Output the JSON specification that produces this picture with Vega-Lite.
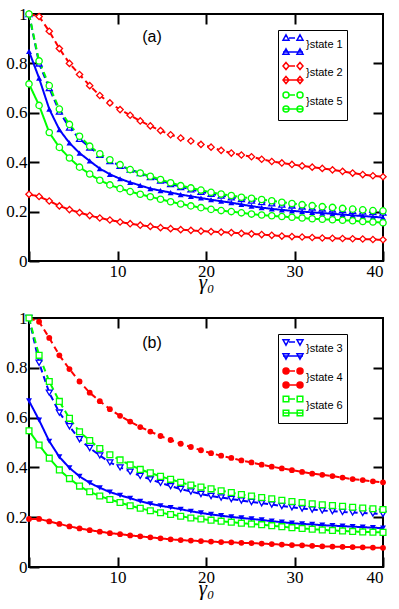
{
  "$schema": "https://vega.github.io/schema/vega-lite/v6.json",
  "background": "white",
  "padding": {"left": 4, "top": 4, "right": 4, "bottom": 4},
  "spacing": 15,
  "datasets": {
    "a": [
      {"state": "state 1", "style": "dashed", "x": [0,1.14,2.29,3.43,4.57,5.71,6.86,8,9.14,10.29,11.43,12.57,13.71,14.86,16,17.14,18.29,19.43,20.57,21.71,22.86,24,25.14,26.29,27.43,28.57,29.71,30.86,32,33.14,34.29,35.43,36.57,37.71,38.86,40], "y": [1.0,0.80,0.70,0.605,0.54,0.495,0.46,0.43,0.405,0.386,0.37,0.356,0.34,0.326,0.312,0.30,0.29,0.28,0.272,0.265,0.258,0.251,0.245,0.239,0.234,0.229,0.225,0.221,0.217,0.213,0.209,0.206,0.203,0.2,0.198,0.196]},
      {"state": "state 1", "style": "solid", "x": [0,1.14,2.29,3.43,4.57,5.71,6.86,8,9.14,10.29,11.43,12.57,13.71,14.86,16,17.14,18.29,19.43,20.57,21.71,22.86,24,25.14,26.29,27.43,28.57,29.71,30.86,32,33.14,34.29,35.43,36.57,37.71,38.86,40], "y": [0.849,0.74,0.615,0.532,0.478,0.437,0.405,0.374,0.351,0.333,0.318,0.306,0.293,0.285,0.277,0.269,0.262,0.255,0.248,0.242,0.236,0.229,0.222,0.216,0.211,0.207,0.203,0.2,0.197,0.194,0.191,0.188,0.185,0.182,0.179,0.176]},
      {"state": "state 2", "style": "dashed", "x": [0,1.14,2.29,3.43,4.57,5.71,6.86,8,9.14,10.29,11.43,12.57,13.71,14.86,16,17.14,18.29,19.43,20.57,21.71,22.86,24,25.14,26.29,27.43,28.57,29.71,30.86,32,33.14,34.29,35.43,36.57,37.71,38.86,40], "y": [1.0,0.99,0.93,0.86,0.80,0.755,0.71,0.67,0.64,0.613,0.59,0.567,0.547,0.528,0.511,0.498,0.486,0.472,0.461,0.448,0.437,0.429,0.422,0.412,0.403,0.397,0.391,0.385,0.38,0.375,0.369,0.363,0.356,0.35,0.345,0.341]},
      {"state": "state 2", "style": "solid", "x": [0,1.14,2.29,3.43,4.57,5.71,6.86,8,9.14,10.29,11.43,12.57,13.71,14.86,16,17.14,18.29,19.43,20.57,21.71,22.86,24,25.14,26.29,27.43,28.57,29.71,30.86,32,33.14,34.29,35.43,36.57,37.71,38.86,40], "y": [0.27,0.261,0.243,0.223,0.208,0.196,0.184,0.174,0.166,0.158,0.151,0.145,0.14,0.135,0.131,0.127,0.124,0.121,0.119,0.117,0.115,0.112,0.11,0.107,0.104,0.101,0.099,0.097,0.095,0.093,0.092,0.091,0.09,0.089,0.087,0.086]},
      {"state": "state 5", "style": "dashed", "x": [0,1.14,2.29,3.43,4.57,5.71,6.86,8,9.14,10.29,11.43,12.57,13.71,14.86,16,17.14,18.29,19.43,20.57,21.71,22.86,24,25.14,26.29,27.43,28.57,29.71,30.86,32,33.14,34.29,35.43,36.57,37.71,38.86,40], "y": [1.0,0.81,0.71,0.615,0.553,0.505,0.465,0.434,0.41,0.39,0.37,0.356,0.343,0.33,0.317,0.305,0.296,0.287,0.278,0.271,0.265,0.258,0.254,0.249,0.244,0.238,0.233,0.228,0.224,0.22,0.217,0.213,0.21,0.207,0.204,0.203]},
      {"state": "state 5", "style": "solid", "x": [0,1.14,2.29,3.43,4.57,5.71,6.86,8,9.14,10.29,11.43,12.57,13.71,14.86,16,17.14,18.29,19.43,20.57,21.71,22.86,24,25.14,26.29,27.43,28.57,29.71,30.86,32,33.14,34.29,35.43,36.57,37.71,38.86,40], "y": [0.717,0.63,0.52,0.46,0.417,0.38,0.352,0.327,0.308,0.293,0.281,0.27,0.26,0.25,0.24,0.231,0.223,0.216,0.209,0.204,0.2,0.195,0.19,0.186,0.183,0.18,0.177,0.174,0.171,0.169,0.167,0.165,0.163,0.16,0.158,0.155]}
    ],
    "b": [
      {"state": "state 3", "style": "dashed", "x": [0,1.14,2.29,3.43,4.57,5.71,6.86,8,9.14,10.29,11.43,12.57,13.71,14.86,16,17.14,18.29,19.43,20.57,21.71,22.86,24,25.14,26.29,27.43,28.57,29.71,30.86,32,33.14,34.29,35.43,36.57,37.71,38.86,40], "y": [1.0,0.82,0.70,0.62,0.565,0.513,0.478,0.448,0.42,0.4,0.383,0.366,0.352,0.338,0.325,0.313,0.303,0.293,0.285,0.279,0.273,0.267,0.261,0.256,0.251,0.245,0.24,0.235,0.231,0.227,0.224,0.221,0.219,0.217,0.215,0.213]},
      {"state": "state 3", "style": "solid", "x": [0,1.14,2.29,3.43,4.57,5.71,6.86,8,9.14,10.29,11.43,12.57,13.71,14.86,16,17.14,18.29,19.43,20.57,21.71,22.86,24,25.14,26.29,27.43,28.57,29.71,30.86,32,33.14,34.29,35.43,36.57,37.71,38.86,40], "y": [0.667,0.59,0.505,0.442,0.398,0.364,0.338,0.318,0.301,0.288,0.276,0.264,0.254,0.246,0.239,0.232,0.224,0.217,0.211,0.206,0.201,0.197,0.193,0.189,0.184,0.18,0.176,0.173,0.171,0.168,0.166,0.164,0.162,0.16,0.158,0.156]},
      {"state": "state 4", "style": "dashed", "x": [0,1.14,2.29,3.43,4.57,5.71,6.86,8,9.14,10.29,11.43,12.57,13.71,14.86,16,17.14,18.29,19.43,20.57,21.71,22.86,24,25.14,26.29,27.43,28.57,29.71,30.86,32,33.14,34.29,35.43,36.57,37.71,38.86,40], "y": [1.0,0.985,0.92,0.85,0.795,0.745,0.70,0.666,0.634,0.607,0.584,0.562,0.544,0.526,0.51,0.495,0.482,0.469,0.457,0.447,0.438,0.428,0.42,0.411,0.403,0.396,0.389,0.382,0.375,0.37,0.365,0.359,0.353,0.349,0.344,0.34]},
      {"state": "state 4", "style": "solid", "x": [0,1.14,2.29,3.43,4.57,5.71,6.86,8,9.14,10.29,11.43,12.57,13.71,14.86,16,17.14,18.29,19.43,20.57,21.71,22.86,24,25.14,26.29,27.43,28.57,29.71,30.86,32,33.14,34.29,35.43,36.57,37.71,38.86,40], "y": [0.193,0.193,0.183,0.173,0.163,0.155,0.148,0.142,0.136,0.132,0.127,0.123,0.119,0.115,0.111,0.108,0.106,0.104,0.102,0.1,0.099,0.097,0.096,0.094,0.092,0.09,0.088,0.087,0.085,0.083,0.082,0.081,0.08,0.079,0.078,0.077]},
      {"state": "state 6", "style": "dashed", "x": [0,1.14,2.29,3.43,4.57,5.71,6.86,8,9.14,10.29,11.43,12.57,13.71,14.86,16,17.14,18.29,19.43,20.57,21.71,22.86,24,25.14,26.29,27.43,28.57,29.71,30.86,32,33.14,34.29,35.43,36.57,37.71,38.86,40], "y": [1.0,0.85,0.745,0.665,0.597,0.543,0.508,0.476,0.451,0.43,0.41,0.392,0.378,0.364,0.352,0.34,0.329,0.321,0.314,0.306,0.299,0.291,0.285,0.279,0.274,0.268,0.263,0.259,0.254,0.25,0.247,0.244,0.24,0.237,0.234,0.231]},
      {"state": "state 6", "style": "solid", "x": [0,1.14,2.29,3.43,4.57,5.71,6.86,8,9.14,10.29,11.43,12.57,13.71,14.86,16,17.14,18.29,19.43,20.57,21.71,22.86,24,25.14,26.29,27.43,28.57,29.71,30.86,32,33.14,34.29,35.43,36.57,37.71,38.86,40], "y": [0.547,0.49,0.437,0.39,0.355,0.325,0.302,0.285,0.271,0.259,0.246,0.236,0.226,0.218,0.211,0.204,0.197,0.193,0.188,0.184,0.18,0.176,0.173,0.17,0.166,0.162,0.158,0.155,0.152,0.149,0.147,0.145,0.143,0.141,0.14,0.139]}
    ]
  },
  "vconcat": [
    {
      "width": 354,
      "height": 247,
      "resolve": {"axis": {"x": "independent", "y": "independent"}},
      "layer": [
        {
          "data": {"name": "a"},
          "transform": [{"flatten": ["x", "y"]}],
          "mark": {"type": "line", "strokeWidth": 2},
          "encoding": {
            "x": {"field": "x", "type": "quantitative", "scale": {"domain": [0, 40], "nice": false}, "axis": {"orient": "bottom", "values": [0, 10, 20, 30, 40], "labelExpr": "datum.value == 0 ? '' : datum.label", "title": "γ₀"}},
            "y": {"field": "y", "type": "quantitative", "scale": {"domain": [0, 1], "nice": false}, "axis": {"orient": "left", "values": [0, 0.2, 0.4, 0.6, 0.8, 1], "format": ".1~f", "title": null}},
            "color": {"field": "state", "type": "nominal", "scale": {"domain": ["state 1", "state 2", "state 5"], "range": ["#0000ff", "#ff0000", "#00ff00"]},
              "legend": {"orient": "none", "legendX": 249, "legendY": 16, "title": null, "strokeColor": "black", "fillColor": "white", "padding": 4, "symbolSize": 400, "symbolStrokeWidth": 1.5, "symbolFillColor": "white",
                "symbolType": {"expr": "datum.value == 'state 1' ? 'M-0.7,-1.02L-0.4,-0.48L-1,-0.48Z M0.7,-1.02L1,-0.48L0.4,-0.48Z M-0.4,-0.7H0.2 M-1,0.7H1 M-0.7,0.38L-0.4,0.92L-1,0.92Z M0.7,0.38L1,0.92L0.4,0.92Z' : datum.value == 'state 2' ? 'M-0.7,-1.05L-0.4,-0.7L-0.7,-0.35L-1,-0.7Z M0.7,-1.05L1,-0.7L0.7,-0.35L0.4,-0.7Z M-0.4,-0.7H0.2 M-1,0.7H1 M-0.7,0.35L-0.4,0.7L-0.7,1.05L-1,0.7Z M0.7,0.35L1,0.7L0.7,1.05L0.4,0.7Z' : 'M-1,-0.7A0.3,0.3,0,1,0,-0.4,-0.7A0.3,0.3,0,1,0,-1,-0.7Z M0.4,-0.7A0.3,0.3,0,1,0,1,-0.7A0.3,0.3,0,1,0,0.4,-0.7Z M-0.4,-0.7H0.2 M-1,0.7H1 M-1,0.7A0.3,0.3,0,1,0,-0.4,0.7A0.3,0.3,0,1,0,-1,0.7Z M0.4,0.7A0.3,0.3,0,1,0,1,0.7A0.3,0.3,0,1,0,0.4,0.7Z'"},
                "labelFont": "Liberation Sans", "labelFontSize": 11, "labelColor": "black", "labelExpr": "'}' + datum.label", "rowPadding": 1, "labelOffset": 2}},
            "strokeDash": {"field": "style", "type": "nominal", "scale": {"domain": ["dashed", "solid"], "range": [[6, 4], [1, 0]]}, "legend": null}
          }
        },
        {
          "data": {"name": "a"},
          "transform": [{"flatten": ["x", "y"]}, {"filter": "datum.state == 'state 1' && datum.style == 'dashed'"}],
          "mark": {"type": "point", "shape": "triangle-up", "filled": false, "color": "#0000ff", "fill": "white", "size": 36, "strokeWidth": 1.3, "opacity": 1},
          "encoding": {
            "x": {"field": "x", "type": "quantitative", "axis": null},
            "y": {"field": "y", "type": "quantitative", "axis": null}
          }
        },
        {
          "data": {"name": "a"},
          "transform": [{"flatten": ["x", "y"]}, {"filter": "datum.state == 'state 1' && datum.style == 'solid'"}],
          "mark": {"type": "point", "shape": "triangle-up", "filled": true, "color": "#0000ff", "size": 36, "opacity": 1},
          "encoding": {
            "x": {"field": "x", "type": "quantitative", "axis": null},
            "y": {"field": "y", "type": "quantitative", "axis": null}
          }
        },
        {
          "data": {"name": "a"},
          "transform": [{"flatten": ["x", "y"]}, {"filter": "datum.state == 'state 2'"}],
          "mark": {"type": "point", "shape": "diamond", "filled": false, "color": "#ff0000", "fill": "white", "size": 40, "strokeWidth": 1.3, "opacity": 1},
          "encoding": {
            "x": {"field": "x", "type": "quantitative", "axis": null},
            "y": {"field": "y", "type": "quantitative", "axis": null}
          }
        },
        {
          "data": {"name": "a"},
          "transform": [{"flatten": ["x", "y"]}, {"filter": "datum.state == 'state 5'"}],
          "mark": {"type": "point", "shape": "circle", "filled": false, "color": "#00ff00", "fill": "white", "size": 40, "strokeWidth": 1.3, "opacity": 1},
          "encoding": {
            "x": {"field": "x", "type": "quantitative", "axis": null},
            "y": {"field": "y", "type": "quantitative", "axis": null}
          }
        },
        {
          "data": {"values": [{"tx": 13.9, "ty": 0.905, "label": "(a)"}]},
          "mark": {"type": "text", "font": "Liberation Sans", "fontSize": 16, "baseline": "middle", "align": "center", "color": "black"},
          "encoding": {
            "x": {"field": "tx", "type": "quantitative", "axis": {"orient": "top", "labels": false, "title": null, "values": [10, 20, 30]}},
            "y": {"field": "ty", "type": "quantitative", "axis": {"orient": "right", "labels": false, "title": null, "values": [0.2, 0.4, 0.6, 0.8]}},
            "text": {"field": "label"}
          }
        }
      ]
    },
    {
      "width": 354,
      "height": 249,
      "resolve": {"axis": {"x": "independent", "y": "independent"}},
      "layer": [
        {
          "data": {"name": "b"},
          "transform": [{"flatten": ["x", "y"]}],
          "mark": {"type": "line", "strokeWidth": 2},
          "encoding": {
            "x": {"field": "x", "type": "quantitative", "scale": {"domain": [0, 40], "nice": false}, "axis": {"orient": "bottom", "values": [0, 10, 20, 30, 40], "labelExpr": "datum.value == 0 ? '' : datum.label", "title": "γ₀"}},
            "y": {"field": "y", "type": "quantitative", "scale": {"domain": [0, 1], "nice": false}, "axis": {"orient": "left", "values": [0, 0.2, 0.4, 0.6, 0.8, 1], "format": ".1~f", "title": null}},
            "color": {"field": "state", "type": "nominal", "scale": {"domain": ["state 3", "state 4", "state 6"], "range": ["#0000ff", "#ff0000", "#00ff00"]},
              "legend": {"orient": "none", "legendX": 249, "legendY": 16, "title": null, "strokeColor": "black", "fillColor": "white", "padding": 4, "symbolSize": 400, "symbolStrokeWidth": 1.5, "symbolFillColor": "white",
                "symbolType": {"expr": "datum.value == 'state 3' ? 'M-0.7,-0.38L-0.4,-0.92L-1,-0.92Z M0.7,-0.38L1,-0.92L0.4,-0.92Z M-0.4,-0.7H0.2 M-1,0.7H1 M-0.7,1.02L-0.4,0.48L-1,0.48Z M0.7,1.02L1,0.48L0.4,0.48Z' : datum.value == 'state 4' ? 'M-1,-0.7A0.3,0.3,0,1,0,-0.4,-0.7A0.3,0.3,0,1,0,-1,-0.7Z M0.4,-0.7A0.3,0.3,0,1,0,1,-0.7A0.3,0.3,0,1,0,0.4,-0.7Z M-0.4,-0.7H0.2 M-1,0.7H1 M-1,0.7A0.3,0.3,0,1,0,-0.4,0.7A0.3,0.3,0,1,0,-1,0.7Z M0.4,0.7A0.3,0.3,0,1,0,1,0.7A0.3,0.3,0,1,0,0.4,0.7Z' : 'M-0.98,-0.98H-0.42V-0.42H-0.98Z M0.42,-0.98H0.98V-0.42H0.42Z M-0.4,-0.7H0.2 M-1,0.7H1 M-0.98,0.42H-0.42V0.98H-0.98Z M0.42,0.42H0.98V0.98H0.42Z'"},
                "encode": {"symbols": {"update": {"fill": {"signal": "datum.value == 'state 4' ? '#ff0000' : 'white'"}}}},
                "labelFont": "Liberation Sans", "labelFontSize": 11, "labelColor": "black", "labelExpr": "'}' + datum.label", "rowPadding": 1, "labelOffset": 2}},
            "strokeDash": {"field": "style", "type": "nominal", "scale": {"domain": ["dashed", "solid"], "range": [[6, 4], [1, 0]]}, "legend": null}
          }
        },
        {
          "data": {"name": "b"},
          "transform": [{"flatten": ["x", "y"]}, {"filter": "datum.state == 'state 3' && datum.style == 'dashed'"}],
          "mark": {"type": "point", "shape": "triangle-down", "filled": false, "color": "#0000ff", "fill": "white", "size": 36, "strokeWidth": 1.3, "opacity": 1},
          "encoding": {
            "x": {"field": "x", "type": "quantitative", "axis": null},
            "y": {"field": "y", "type": "quantitative", "axis": null}
          }
        },
        {
          "data": {"name": "b"},
          "transform": [{"flatten": ["x", "y"]}, {"filter": "datum.state == 'state 3' && datum.style == 'solid'"}],
          "mark": {"type": "point", "shape": "triangle-down", "filled": true, "color": "#0000ff", "size": 36, "opacity": 1},
          "encoding": {
            "x": {"field": "x", "type": "quantitative", "axis": null},
            "y": {"field": "y", "type": "quantitative", "axis": null}
          }
        },
        {
          "data": {"name": "b"},
          "transform": [{"flatten": ["x", "y"]}, {"filter": "datum.state == 'state 4'"}],
          "mark": {"type": "point", "shape": "circle", "filled": true, "color": "#ff0000", "size": 34, "opacity": 1},
          "encoding": {
            "x": {"field": "x", "type": "quantitative", "axis": null},
            "y": {"field": "y", "type": "quantitative", "axis": null}
          }
        },
        {
          "data": {"name": "b"},
          "transform": [{"flatten": ["x", "y"]}, {"filter": "datum.state == 'state 6'"}],
          "mark": {"type": "point", "shape": "square", "filled": false, "color": "#00ff00", "fill": "white", "size": 34, "strokeWidth": 1.3, "opacity": 1},
          "encoding": {
            "x": {"field": "x", "type": "quantitative", "axis": null},
            "y": {"field": "y", "type": "quantitative", "axis": null}
          }
        },
        {
          "data": {"values": [{"tx": 13.9, "ty": 0.9, "label": "(b)"}]},
          "mark": {"type": "text", "font": "Liberation Sans", "fontSize": 16, "baseline": "middle", "align": "center", "color": "black"},
          "encoding": {
            "x": {"field": "tx", "type": "quantitative", "axis": {"orient": "top", "labels": false, "title": null, "values": [10, 20, 30]}},
            "y": {"field": "ty", "type": "quantitative", "axis": {"orient": "right", "labels": false, "title": null, "values": [0.2, 0.4, 0.6, 0.8]}},
            "text": {"field": "label"}
          }
        }
      ]
    }
  ],
  "resolve": {"scale": {"color": "independent", "x": "independent", "y": "independent"}, "legend": {"color": "independent"}},
  "config": {
    "view": {"stroke": "black", "strokeWidth": 2},
    "axis": {"domain": false, "grid": false, "tickColor": "black", "tickWidth": 2, "tickSize": -10, "labelPadding": 12, "labelFont": "Liberation Serif", "labelFontSize": 17, "labelColor": "black", "titleFont": "Liberation Serif", "titleFontSize": 21, "titleFontStyle": "italic", "titleFontWeight": "normal", "titleColor": "black", "titlePadding": -8}
  }
}
